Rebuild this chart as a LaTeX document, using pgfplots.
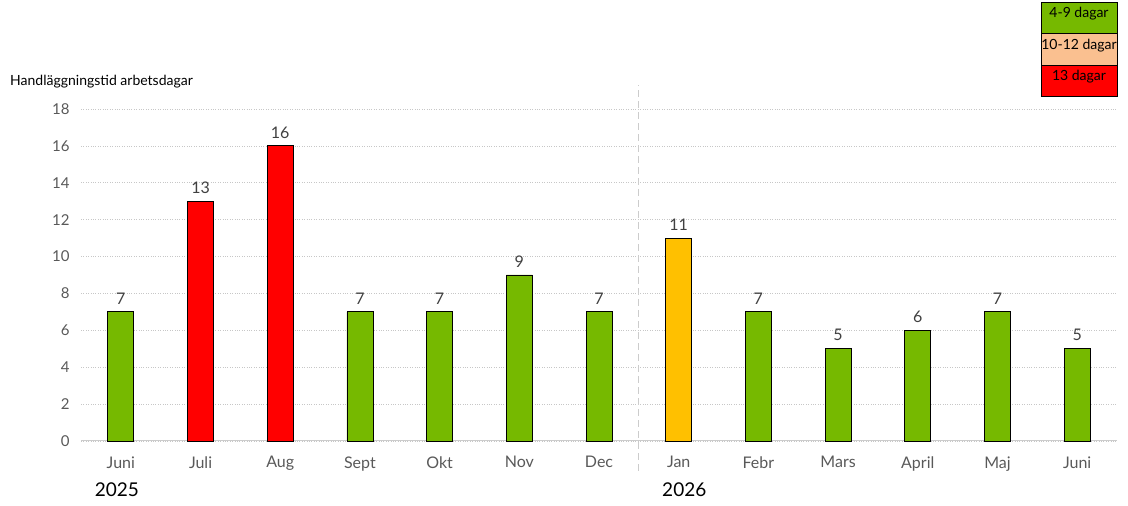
\documentclass[border=0pt]{standalone}
\usepackage{fontspec}
\setmainfont{Lato}
\usepackage{pgfplots}
\pgfplotsset{compat=1.18}
\definecolor{barGreen}{HTML}{76B900}
\definecolor{barRed}{HTML}{FF0000}
\definecolor{barYellow}{HTML}{FFC000}
\definecolor{legOrange}{HTML}{FAC090}
\definecolor{tickGray}{HTML}{595959}
\definecolor{valGray}{HTML}{404040}
\begin{document}
\begin{tikzpicture}[x=1pt,y=1pt]
\useasboundingbox (0,0) rectangle (1128,506);
\begin{axis}[
    at={(81pt,65pt)}, anchor=south west,
    scale only axis, width=1036pt, height=332pt,
    ymin=0, ymax=18, xmin=-0.5, xmax=12.5,
    ytick={0,2,...,18},
    xtick={0,...,12},
    xticklabels={Juni,Juli,Aug,Sept,Okt,Nov,Dec,Jan,Febr,Mars,April,Maj,Juni},
    axis line style={draw=none},
    major tick length=0pt,
    ymajorgrids, grid style={dotted, black!22, line width=0.6pt},
    tick label style={text=tickGray},
    yticklabel style={font=\fontsize{15}{17}\selectfont, xshift=-8pt},
    xticklabel style={font=\fontsize{16}{18}\selectfont, yshift=-12pt},
    /pgf/number format/assume math mode=true,
    clip=false,
    nodes near coords,
    every node near coord/.append style={font=\fontsize{16}{18}\selectfont, text=valGray, yshift=4pt},
]
\draw[black!20, line width=1pt] (axis cs:-0.5,0) -- (axis cs:12.5,0);
\draw[black!20, line width=1.3pt, dash pattern=on 7pt off 4pt] (axis cs:6.5,-1.6) -- (axis cs:6.5,19.3);
\addplot[ybar, bar shift=0pt, bar width=26pt, fill=barGreen, draw=black, line width=0.8pt]
  coordinates {(0,7) (3,7) (4,7) (5,9) (6,7) (8,7) (9,5) (10,6) (11,7) (12,5)};
\addplot[ybar, bar shift=0pt, bar width=26pt, fill=barRed, draw=black, line width=0.8pt]
  coordinates {(1,13) (2,16)};
\addplot[ybar, bar shift=0pt, bar width=26pt, fill=barYellow, draw=black, line width=0.8pt]
  coordinates {(7,11)};
\node[font=\fontsize{19}{22}\selectfont, anchor=center] at (axis cs:-0.05,-2.66) {2025};
\node[font=\fontsize{19}{22}\selectfont, anchor=center] at (axis cs:7.07,-2.66) {2026};
\end{axis}
\node[anchor=west, font=\fontsize{14}{16}\selectfont, inner sep=0pt] at (10,424) {Handläggningstid arbetsdagar};
\begin{scope}[line width=0.8pt]
\filldraw[fill=barGreen, draw=black] (1041,473) rectangle (1117,504);
\filldraw[fill=legOrange, draw=black] (1041,441) rectangle (1117,473);
\filldraw[fill=barRed, draw=black] (1041,410) rectangle (1117,441);
\end{scope}
\node[font=\fontsize{14}{16}\selectfont] at (1079,492) {4-9 dagar};
\node[font=\fontsize{14}{16}\selectfont] at (1079,460) {10-12 dagar};
\node[font=\fontsize{14}{16}\selectfont] at (1079,429) {13 dagar};
\end{tikzpicture}
\end{document}
